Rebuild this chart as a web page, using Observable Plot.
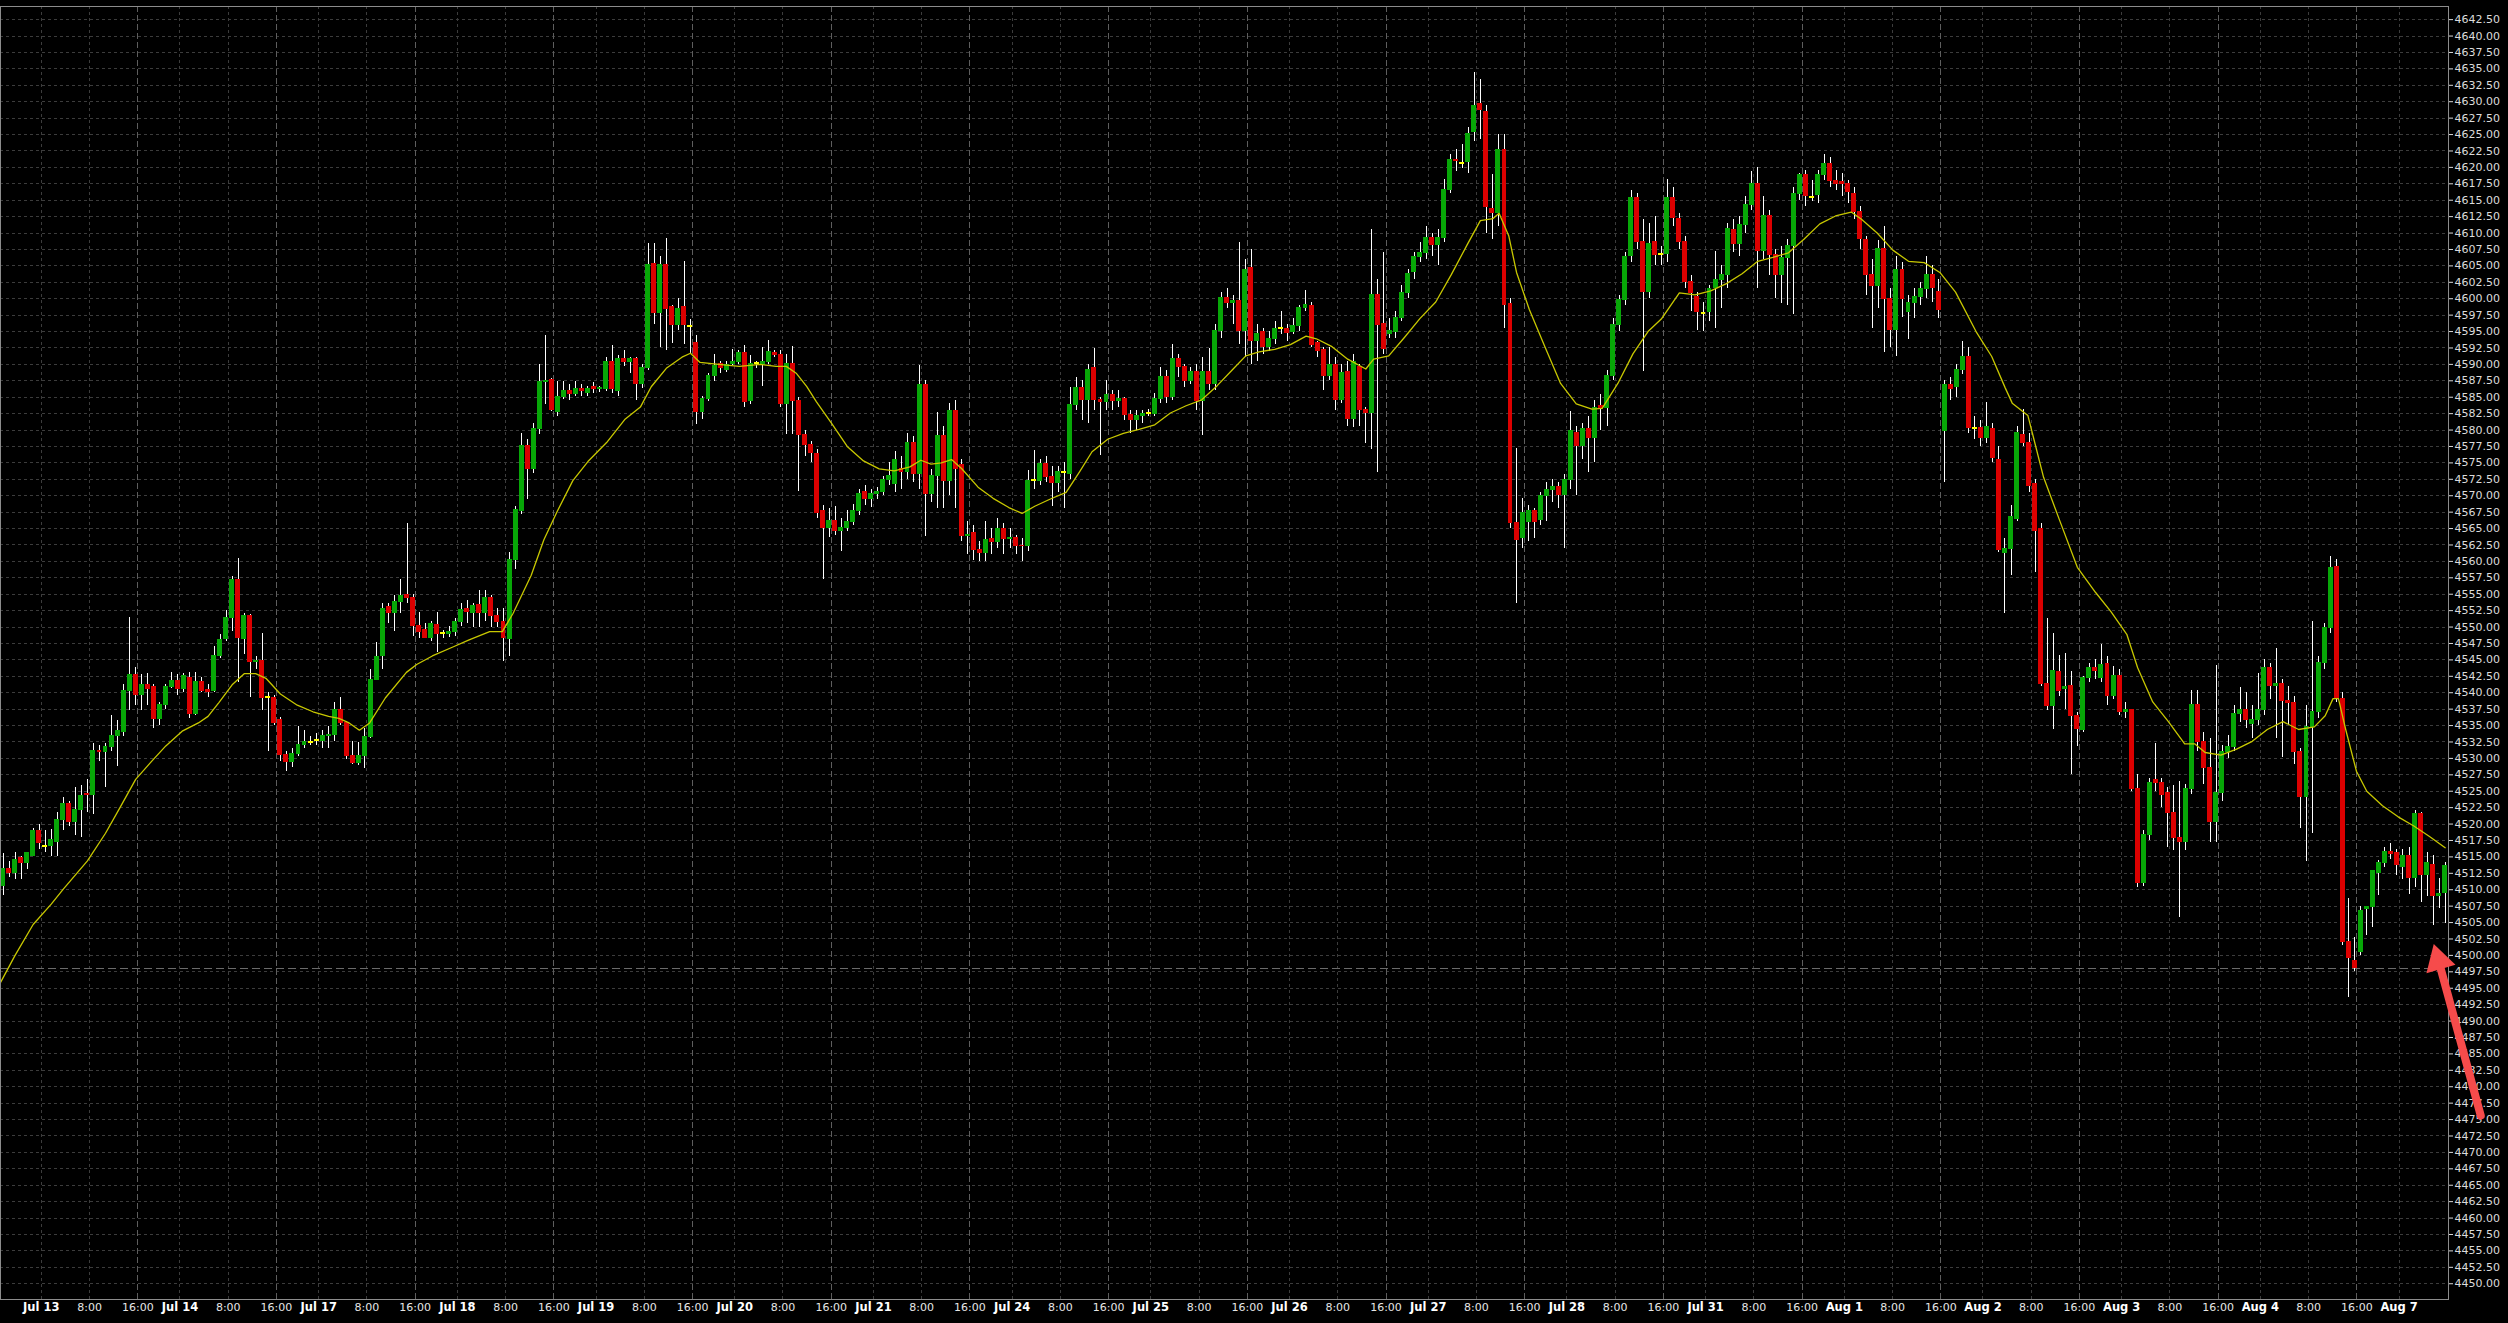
<!DOCTYPE html>
<html><head><meta charset="utf-8">
<script src="https://cdn.jsdelivr.net/npm/d3@7"></script>
<script src="https://cdn.jsdelivr.net/npm/@observablehq/plot@0.6"></script>
<style>
html,body{margin:0;padding:0;background:#000;}
#chart{width:2508px;height:1323px;overflow:hidden;background:#000;}
</style></head><body><div id="chart"></div>
<script>
// ---- hourly candles (bar index = position in arrays) ----
const opens = [
4510.6,4513.2,4512.5,4514.8,4514.1,4515.2,4519.0,4516.6,4516.7,4517.3,
4520.6,4523.0,4520.3,4522.2,4524.6,4524.4,4531.2,4530.9,4531.7,4533.4,
4534.0,4540.3,4542.7,4539.6,4541.2,4540.8,4536.0,4538.1,4540.8,4541.8,
4540.6,4542.3,4536.8,4541.6,4540.4,4540.3,4545.6,4548.2,4551.4,4557.1,
4548.2,4551.7,4544.7,4544.8,4539.2,4539.2,4535.9,4530.5,4529.4,4530.7,
4532.0,4532.4,4532.8,4532.6,4533.4,4533.6,4537.3,4535.4,4530.3,4529.3,
4530.3,4533.3,4542.0,4545.6,4553.0,4552.1,4553.8,4554.9,4554.5,4550.1,
4549.6,4548.4,4550.3,4549.0,4549.0,4549.2,4550.7,4552.8,4552.2,4553.3,
4552.2,4554.4,4551.7,4550.7,4548.2,4560.2,4567.6,4577.5,4574.0,4580.2,
4587.3,4587.6,4582.8,4585.1,4585.9,4585.5,4586.3,4585.7,4586.6,4586.3,
4586.3,4590.3,4586.0,4590.8,4590.4,4590.8,4587.0,4589.5,4605.3,4597.8,
4605.1,4598.7,4596.0,4598.7,4595.7,4593.2,4582.8,4584.7,4588.2,4590.0,
4589.2,4590.1,4590.4,4591.7,4584.5,4590.1,4590.1,4590.4,4591.8,4591.4,
4584.0,4590.0,4584.5,4579.3,4577.7,4576.4,4567.7,4565.1,4566.1,4564.7,
4565.1,4566.0,4567.7,4570.5,4569.5,4570.2,4570.5,4572.4,4571.8,4574.0,
4573.6,4578.0,4573.3,4586.8,4570.3,4573.0,4579.1,4572.2,4582.9,4574.7,
4563.9,4564.3,4561.7,4561.3,4563.4,4563.0,4565.0,4563.4,4563.6,4562.4,
4562.3,4572.3,4572.3,4574.8,4572.9,4572.0,4573.5,4573.3,4583.8,4586.4,
4584.6,4589.5,4584.6,4584.3,4585.4,4584.5,4584.7,4582.3,4581.5,4582.1,
4582.5,4582.5,4584.8,4588.1,4585.0,4590.8,4589.6,4587.4,4588.8,4584.4,
4588.8,4587.0,4595.1,4600.1,4599.4,4599.7,4595.1,4604.7,4593.6,4594.9,
4592.7,4593.9,4595.4,4595.4,4595.0,4595.8,4598.6,4598.9,4593.2,4592.2,
4588.2,4589.9,4584.6,4588.8,4581.7,4589.6,4583.0,4582.6,4600.6,4596.2,
4594.7,4595.0,4597.0,4600.9,4604.0,4606.3,4606.9,4609.3,4608.2,4609.3,
4616.5,4621.2,4620.6,4620.8,4625.4,4629.6,4628.5,4613.7,4613.0,4622.7,
4599.2,4565.8,4563.5,4566.0,4567.7,4566.3,4569.9,4570.9,4571.3,4570.1,
4572.4,4579.5,4577.6,4580.2,4578.8,4583.6,4583.4,4588.3,4596.0,4599.8,
4606.5,4615.4,4608.7,4601.0,4608.7,4606.8,4606.8,4615.4,4612.1,4608.7,
4602.6,4600.3,4597.8,4598.0,4601.7,4602.9,4603.6,4610.4,4608.3,4611.3,
4614.3,4617.4,4607.2,4612.6,4606.6,4603.6,4606.2,4608.0,4616.0,4618.8,
4615.4,4615.8,4618.8,4620.5,4617.9,4617.7,4617.4,4616.0,4613.2,4608.9,
4603.6,4602.0,4607.6,4600.0,4595.2,4604.4,4598.0,4599.4,4600.3,4601.5,
4603.6,4601.0,4579.8,4586.9,4586.5,4589.1,4591.2,4580.3,4580.3,4578.8,
4580.1,4575.5,4561.3,4561.9,4566.4,4579.2,4578.0,4571.8,4564.9,4541.4,
4538.0,4543.1,4540.6,4541.0,4536.5,4534.4,4542.2,4543.8,4542.2,4544.4,
4539.5,4542.5,4537.1,4537.3,4525.4,4511.1,4518.3,4526.7,4526.2,4524.8,
4521.7,4517.9,4517.3,4525.4,4538.2,4532.5,4528.5,4520.3,4524.8,4531.0,
4531.7,4536.7,4537.3,4535.2,4535.8,4537.3,4543.8,4541.0,4541.3,4538.8,
4538.5,4530.9,4524.1,4534.8,4537.1,4544.6,4549.9,4559.1,4539.1,4502.0,
4499.2,4500.5,4507.0,4507.4,4512.5,4514.1,4515.7,4515.6,4513.5,4515.1,
4511.8,4521.5,4512.2,4513.7,4509.1,4509.5
];
const highs = [
4515.5,4514.3,4515.6,4515.0,4515.7,4519.3,4519.9,4519.0,4519.2,4521.7,
4524.0,4523.5,4525.6,4525.8,4526.8,4532.2,4531.9,4532.2,4536.5,4535.7,
4541.2,4551.4,4543.9,4542.7,4542.9,4541.3,4538.5,4541.2,4543.1,4542.7,
4542.9,4543.1,4543.1,4542.3,4541.2,4547.0,4548.8,4552.5,4557.7,4560.5,
4552.1,4551.9,4545.5,4549.0,4540.0,4539.6,4536.2,4531.1,4531.5,4534.8,
4534.3,4533.4,4533.8,4534.2,4534.8,4538.5,4539.2,4535.6,4532.5,4532.4,
4534.6,4543.5,4547.6,4553.6,4553.6,4554.8,4557.3,4565.8,4555.0,4552.2,
4550.5,4550.9,4552.2,4549.5,4550.1,4551.3,4553.6,4554.0,4553.6,4555.6,
4555.6,4554.8,4552.8,4552.8,4561.4,4568.4,4579.4,4578.5,4581.0,4590.0,
4594.4,4587.8,4587.4,4587.4,4587.0,4587.4,4586.9,4586.6,4587.2,4586.6,
4591.1,4592.9,4591.3,4592.1,4591.0,4591.0,4590.0,4608.4,4608.4,4606.5,
4609.2,4598.9,4600.0,4605.7,4596.8,4594.4,4585.1,4588.6,4591.5,4590.4,
4590.4,4592.3,4592.1,4592.9,4591.3,4590.5,4592.5,4593.6,4592.1,4592.1,
4591.5,4592.8,4585.0,4580.0,4578.2,4577.0,4568.5,4568.0,4568.3,4566.6,
4567.7,4568.7,4571.0,4571.5,4571.0,4571.3,4573.0,4575.0,4576.7,4576.0,
4579.5,4579.0,4589.9,4587.5,4574.0,4582.6,4580.5,4584.0,4584.5,4575.5,
4566.0,4565.5,4563.0,4566.0,4565.0,4566.5,4565.8,4565.0,4564.0,4563.5,
4573.8,4576.9,4575.5,4576.0,4574.5,4574.5,4575.0,4586.5,4588.0,4587.5,
4590.0,4592.4,4585.0,4587.5,4586.0,4586.0,4585.0,4583.0,4583.0,4583.0,
4583.2,4585.5,4589.5,4589.0,4593.0,4591.5,4590.0,4589.5,4590.0,4591.0,
4592.4,4596.0,4601.0,4601.5,4600.5,4608.6,4606.0,4607.5,4596.0,4595.5,
4595.0,4596.5,4598.0,4596.0,4597.0,4599.0,4601.3,4599.5,4593.5,4592.5,
4592.5,4591.0,4590.0,4590.5,4591.5,4590.0,4583.5,4610.6,4602.9,4607.1,
4597.0,4598.0,4602.0,4604.5,4607.0,4608.5,4611.0,4610.0,4610.5,4618.2,
4622.0,4622.7,4623.5,4626.0,4634.4,4633.4,4629.5,4618.9,4625.0,4625.0,
4600.0,4577.2,4569.6,4568.5,4568.0,4570.5,4572.0,4572.5,4572.0,4573.2,
4582.9,4580.5,4581.0,4582.0,4584.5,4585.4,4589.0,4597.0,4600.5,4607.0,
4616.5,4616.0,4612.0,4611.5,4612.5,4608.0,4618.1,4617.0,4613.0,4609.5,
4603.5,4601.0,4599.5,4602.0,4607.2,4605.0,4611.5,4612.0,4612.5,4615.5,
4619.4,4620.0,4615.5,4613.5,4607.5,4608.0,4609.0,4617.0,4619.0,4619.5,
4618.0,4619.5,4622.0,4621.5,4619.5,4619.0,4618.0,4617.0,4614.0,4609.5,
4606.0,4608.9,4611.0,4601.5,4606.5,4605.5,4600.5,4601.5,4602.5,4606.5,
4605.0,4603.0,4587.5,4588.0,4590.0,4593.5,4592.5,4582.0,4581.5,4584.2,
4581.0,4577.5,4563.5,4568.5,4580.5,4583.2,4579.5,4572.5,4565.8,4551.3,
4549.0,4545.6,4546.0,4543.3,4537.0,4542.5,4544.5,4545.0,4547.4,4545.5,
4544.0,4543.5,4538.5,4537.5,4527.5,4519.0,4527.0,4532.2,4527.0,4525.5,
4525.8,4526.5,4526.0,4540.3,4540.3,4534.0,4533.0,4544.2,4532.0,4533.5,
4538.0,4540.8,4540.0,4538.0,4542.9,4545.0,4544.5,4546.8,4542.0,4541.0,
4539.5,4531.5,4538.0,4550.8,4545.5,4550.5,4560.7,4560.3,4540.0,4508.6,
4502.8,4507.4,4507.4,4512.9,4514.5,4516.5,4517.0,4516.2,4516.2,4516.4,
4522.0,4521.7,4515.7,4515.2,4511.7,4514.1
];
const lows = [
4509.1,4511.9,4511.6,4511.6,4513.1,4515.0,4516.2,4515.6,4515.0,4515.1,
4519.0,4519.6,4518.2,4517.9,4521.8,4521.4,4529.5,4525.6,4531.1,4528.8,
4533.4,4537.3,4538.1,4537.3,4538.1,4534.6,4535.0,4537.5,4540.6,4539.6,
4540.0,4536.0,4536.5,4540.0,4539.2,4540.1,4545.2,4547.8,4549.3,4541.6,
4545.8,4539.2,4543.5,4537.3,4531.1,4535.0,4529.5,4528.0,4528.6,4530.3,
4531.5,4531.9,4532.0,4531.5,4531.5,4532.6,4535.0,4529.9,4529.0,4528.9,
4528.4,4533.0,4541.8,4543.5,4550.5,4549.3,4552.1,4553.6,4548.6,4548.2,
4548.2,4547.8,4546.2,4548.2,4548.4,4548.6,4550.1,4550.5,4549.9,4549.9,
4550.9,4549.9,4549.9,4544.7,4545.5,4558.7,4567.2,4569.5,4573.4,4579.3,
4583.9,4582.8,4582.0,4584.7,4584.5,4585.1,4585.1,4585.1,4585.5,4585.7,
4585.9,4585.5,4585.1,4589.7,4588.6,4584.5,4586.4,4589.0,4596.0,4592.5,
4592.1,4593.2,4595.2,4593.0,4591.5,4580.8,4581.6,4584.3,4587.4,4588.6,
4588.8,4589.9,4590.0,4583.5,4583.9,4589.4,4586.6,4590.0,4591.0,4583.5,
4579.3,4579.3,4570.7,4576.0,4575.0,4566.5,4557.2,4563.7,4563.9,4561.5,
4564.5,4565.5,4567.0,4568.5,4568.2,4569.5,4570.0,4571.5,4570.5,4571.0,
4572.5,4572.0,4571.0,4563.8,4569.0,4568.0,4568.0,4570.0,4568.0,4563.0,
4561.0,4560.1,4560.0,4560.0,4561.0,4562.0,4561.0,4562.0,4561.0,4560.0,
4561.5,4571.0,4571.5,4572.0,4568.4,4570.5,4568.0,4572.5,4583.0,4581.5,
4581.0,4583.0,4576.1,4583.0,4583.0,4583.5,4581.5,4579.5,4580.0,4581.0,
4582.0,4582.0,4584.0,4584.0,4584.5,4588.0,4586.5,4587.0,4583.0,4579.2,
4586.0,4586.0,4594.0,4598.5,4596.0,4593.0,4591.0,4590.0,4590.5,4591.5,
4592.0,4593.0,4594.5,4593.5,4594.5,4595.0,4598.0,4592.5,4591.0,4586.0,
4587.5,4583.0,4584.0,4580.5,4580.4,4580.5,4578.0,4577.0,4573.6,4591.5,
4594.0,4594.0,4596.5,4600.0,4603.0,4605.5,4606.0,4606.5,4605.1,4608.5,
4616.0,4619.4,4619.9,4619.0,4624.0,4624.2,4610.0,4609.0,4611.0,4595.5,
4565.0,4553.6,4562.0,4563.0,4563.5,4565.5,4566.0,4569.0,4568.0,4562.0,
4571.0,4570.0,4575.5,4573.5,4575.0,4580.0,4580.5,4587.5,4595.0,4599.0,
4605.5,4607.5,4588.9,4600.0,4605.0,4605.0,4605.5,4611.0,4607.5,4601.5,
4598.0,4595.2,4595.0,4596.5,4595.5,4598.5,4601.5,4607.0,4606.5,4610.0,
4613.5,4601.5,4606.0,4603.5,4600.0,4599.3,4599.0,4597.6,4615.0,4614.0,
4614.8,4614.5,4618.0,4617.0,4616.5,4615.5,4614.5,4612.0,4607.5,4600.5,
4595.5,4598.5,4591.8,4592.5,4591.2,4597.2,4593.8,4597.0,4599.0,4600.0,
4599.5,4597.0,4572.0,4584.5,4585.0,4588.5,4579.5,4578.5,4577.5,4578.0,
4575.0,4561.3,4552.1,4557.8,4566.0,4577.5,4570.5,4558.3,4541.0,4537.3,
4534.4,4539.5,4537.5,4527.5,4531.8,4534.0,4541.5,4542.0,4541.5,4538.0,
4539.0,4536.5,4536.0,4525.0,4510.3,4510.5,4517.5,4525.0,4522.5,4516.5,
4516.0,4505.7,4516.0,4524.5,4531.0,4526.0,4517.2,4517.2,4523.5,4530.0,
4531.0,4535.5,4534.5,4533.0,4535.0,4536.5,4539.0,4533.0,4530.1,4535.0,
4529.0,4519.4,4514.3,4518.5,4536.0,4543.5,4549.0,4538.5,4501.5,4493.6,
4497.5,4500.0,4503.0,4504.3,4509.1,4513.4,4514.6,4512.2,4511.6,4509.3,
4510.4,4508.1,4508.9,4504.6,4507.1,4504.9
];
const closes = [
4513.2,4512.5,4514.5,4514.1,4515.6,4519.0,4517.1,4516.6,4517.5,4520.6,
4523.0,4520.3,4522.2,4524.2,4524.4,4531.2,4530.9,4531.7,4533.4,4534.2,
4540.3,4542.7,4539.6,4541.2,4540.6,4536.0,4538.1,4540.8,4541.8,4540.6,
4542.5,4536.8,4541.6,4540.3,4540.1,4545.6,4548.0,4551.4,4557.1,4548.3,
4551.7,4544.7,4544.8,4539.2,4539.2,4535.4,4530.5,4529.4,4530.7,4532.0,
4532.5,4532.4,4532.8,4533.4,4533.6,4537.3,4535.4,4530.3,4529.3,4530.3,
4533.3,4542.0,4545.5,4552.7,4552.1,4553.8,4554.7,4554.5,4550.1,4549.2,
4548.4,4550.5,4549.0,4549.0,4549.2,4550.8,4552.6,4552.3,4553.2,4552.2,
4554.4,4551.7,4550.7,4548.3,4560.2,4567.8,4577.5,4574.0,4580.2,4587.3,
4587.5,4583.0,4585.1,4586.0,4585.5,4586.2,4585.9,4586.3,4586.3,4586.4,
4590.3,4586.3,4590.8,4590.4,4590.8,4587.0,4589.5,4605.1,4597.8,4605.1,
4598.5,4596.0,4598.5,4596.0,4595.7,4582.8,4584.7,4588.2,4589.7,4589.4,
4589.9,4590.4,4591.7,4584.3,4590.1,4590.1,4590.4,4591.9,4591.4,4584.0,
4590.0,4584.5,4579.3,4577.7,4576.5,4567.4,4565.1,4566.1,4564.7,4565.1,
4566.0,4567.7,4570.2,4569.5,4570.2,4570.5,4572.4,4573.0,4575.5,4573.6,
4578.0,4573.3,4586.8,4570.3,4573.0,4579.1,4572.2,4582.9,4574.1,4563.9,
4564.0,4561.7,4561.3,4563.2,4563.0,4565.0,4563.4,4563.6,4562.4,4562.3,
4572.3,4572.3,4574.8,4572.9,4572.0,4573.6,4573.5,4583.8,4586.4,4584.6,
4589.2,4584.6,4584.3,4585.4,4584.5,4584.8,4582.3,4581.5,4582.1,4582.5,
4582.5,4584.8,4588.1,4585.0,4590.8,4589.6,4587.4,4588.8,4584.4,4588.8,
4587.0,4595.1,4600.1,4599.4,4599.7,4595.1,4604.4,4593.6,4594.7,4592.7,
4593.9,4595.4,4595.4,4594.8,4595.8,4598.6,4599.0,4593.0,4592.1,4588.2,
4589.9,4584.6,4588.7,4581.7,4590.4,4583.0,4582.6,4600.5,4596.0,4592.3,
4595.1,4597.0,4600.9,4603.7,4606.3,4606.9,4609.2,4608.2,4609.3,4616.5,
4621.2,4620.9,4620.6,4625.1,4629.3,4628.7,4613.9,4613.0,4622.7,4599.0,
4565.8,4563.2,4567.4,4567.7,4566.0,4569.9,4570.9,4571.3,4570.1,4572.4,
4579.8,4577.6,4580.2,4578.8,4583.4,4583.4,4588.3,4596.0,4599.8,4606.4,
4615.4,4608.7,4601.0,4608.3,4606.6,4606.8,4615.4,4612.3,4608.7,4602.6,
4600.9,4598.0,4597.8,4601.5,4602.9,4603.6,4610.6,4608.3,4611.3,4614.3,
4617.4,4607.2,4612.6,4606.6,4603.6,4606.2,4608.0,4616.0,4618.8,4615.6,
4615.4,4618.8,4620.5,4617.9,4617.4,4617.4,4616.2,4613.2,4609.1,4603.6,
4602.0,4607.6,4600.0,4595.2,4604.4,4600.0,4599.4,4600.3,4601.5,4603.6,
4601.7,4598.3,4586.9,4586.3,4589.1,4591.2,4580.3,4580.3,4578.8,4580.5,
4575.8,4561.7,4561.9,4566.7,4579.5,4578.1,4571.5,4564.7,4541.4,4538.0,
4543.3,4540.3,4540.8,4536.5,4534.5,4542.2,4543.8,4543.3,4544.2,4539.5,
4542.5,4537.1,4537.3,4525.4,4511.1,4518.3,4526.2,4526.2,4524.5,4521.7,
4517.9,4517.3,4525.4,4538.2,4532.5,4528.5,4520.3,4524.8,4531.0,4531.7,
4536.7,4537.3,4535.8,4535.8,4537.3,4543.8,4541.0,4541.3,4538.8,4538.5,
4530.9,4524.1,4534.8,4537.1,4544.6,4549.9,4559.0,4539.1,4502.0,4499.6,
4498.1,4506.7,4507.3,4512.8,4514.1,4515.7,4515.5,4513.7,4515.1,4511.8,
4521.5,4512.2,4514.1,4509.0,4509.4,4513.6
];

// ---- moving average line (bar position, value) ----
const maBars = [-0.4,2,5,8,10,14,17,19.4,22,24.6,27,29.8,32.4,34,35.8,38,40,41.9,43.6,46,
48.8,51.4,54,55.7,57.4,59.1,60.8,63.4,66.9,68.6,71.2,74.7,77.2,80.7,82.8,84.6,87.6,89.7,91.9,94.5,
97,100.1,103.1,105.7,107.5,110,112.6,114,115.6,118.7,122.1,125.6,128.2,129.9,131.6,133.3,134.9,
137.5,140,142.7,145.3,147.8,150.4,152.2,153.9,155.6,157.3,159,161.7,164.2,166.8,169,171.1,173.7,
176.3,178.5,180.6,183.2,185.8,188.4,191,193.6,196.2,198.8,201.4,204,206.1,208.3,210.9,213.5,216.1,
217.8,220.4,223,226,227.3,229.8,232.4,235,237.6,240.2,242.8,245,247.1,248.1,249.7,251,253.1,255.7,
258.3,260.9,263.5,265.2,267.8,270.3,272.8,275,278,280.6,283.2,285.8,288.4,291,293.5,296.1,298.7,
301.3,303.9,306.5,308.2,310.8,313.4,316,318.6,321.2,323.8,327.2,329.8,332,333.2,335.8,338.4,341,
344,347,349.6,352.2,354,356.5,359.1,361.8,363.5,365.2,367.8,370.4,373,375.5,378.1,380.7,383.3,
385.1,386.4,387.3,388.5,390.3,392,394.6,397.2,399.8,402.4,405];
const maValues = [4495.9,4500.0,4504.7,4507.8,4510.1,4514.4,4518.6,4522.5,4526.8,4529.5,4531.9,4534.2,4535.4,4536.4,4538.5,4541.2,4542.9,4542.9,4542.2,4539.8,
4538.1,4537.1,4536.4,4536.1,4535.4,4534.3,4535.4,4539.2,4543.1,4544.3,4545.6,4547.0,4548.0,4549.3,4549.3,4552.1,4557.9,4563.3,4567.6,4572.3,
4575.2,4578.1,4581.6,4583.5,4586.6,4589.4,4591.1,4591.7,4590.3,4590.0,4589.7,4590.0,4589.7,4589.7,4588.6,4586.6,4584.3,
4580.9,4577.5,4575.3,4574.1,4573.8,4574.4,4575.4,4574.8,4575.0,4575.5,4574.1,4571.3,4569.6,4568.2,4567.3,4568.4,4569.5,
4570.5,4573.6,4576.7,4578.6,4579.5,4580.1,4580.8,4582.6,4583.7,4584.6,4586.8,4589.3,4591.3,4591.9,4592.3,4593.0,4594.3,
4593.9,4592.7,4590.8,4589.3,4590.8,4591.3,4594.1,4597.0,4599.5,4603.7,4608.2,4611.9,4612.2,4613.0,4609.6,4604.0,4598.4,4592.7,
4587.1,4584.0,4583.2,4583.3,4587.1,4591.6,4595.0,4596.9,4600.9,4600.6,4601.2,4602.3,4603.8,4605.7,4606.3,4607.0,4609.1,
4611.4,4612.6,4613.2,4612.1,4610.0,4607.4,4605.7,4605.5,4604.0,4601.0,4595.0,4591.2,4586.5,4584.1,4582.2,4572.8,4566.4,
4559.1,4555.3,4552.3,4548.9,4543.8,4538.6,4535.6,4532.2,4532.2,4530.9,4530.5,4531.4,4532.6,4534.4,4535.6,4534.4,4534.8,
4536.5,4539.1,4539.1,4534.4,4528.0,4525.0,4522.8,4521.1,4519.7,4518.1,4516.4];

// ---- axis labels ----
const dayLabels = ["Jul 13","Jul 14","Jul 17","Jul 18","Jul 19","Jul 20","Jul 21","Jul 24","Jul 25",
  "Jul 26","Jul 27","Jul 28","Jul 31","Aug 1","Aug 2","Aug 3","Aug 4","Aug 7"];
const timeLabels = ["8:00","16:00"];
const timeOffsets = [8, 16];       // bars after the day's first bar
const firstDayBar = 6, barsPerDay = 23;
const yTicks = d3.range(4450, 4642.51, 2.5);
const levelPrice = [4498];
// annotation arrow (bar position, price)
const arrowTail = {bar: 410.9, price: 4475.6};
const arrowHead = {bar: 403.9, price: 4499.2};

// ---- build ----
const n = Math.min(opens.length, highs.length, lows.length, closes.length);
const candles = d3.range(n).map(i => ({i, o: opens[i], h: highs[i], l: lows[i], c: closes[i]}));
const ma = maBars.map((b, k) => ({b, v: maValues[k]}));
const gridShift = 0.35;
const dayTicks = dayLabels.map((label, d) => ({pos: firstDayBar + barsPerDay * d + gridShift, label}));
const timeTicks = [];
dayLabels.slice(0, -1).forEach((_, d) => timeLabels.forEach((label, k) =>
  timeTicks.push({pos: firstDayBar + barsPerDay * d + timeOffsets[k] + gridShift, label})));
const sepTicks = timeTicks.filter(t => t.label === "16:00");
const dimTicks = dayTicks.concat(timeTicks.filter(t => t.label !== "16:00"));

const GREEN = "#07a707", RED = "#dc0000", DOJI = "#ffff00";
const half = 0.41;
const arrowColor = "#f64b4b";

const chart = Plot.plot({
  width: 2508, height: 1323,
  marginLeft: 0, marginRight: 60, marginTop: 6, marginBottom: 24,
  style: {background: "#000", color: "#ddd", fontFamily: "DejaVu Sans", fontSize: "11px"},
  x: {type: "linear", domain: [-0.415, 405.55], axis: null},
  y: {domain: [4447.6, 4644.5], axis: null},
  marks: [
    Plot.ruleY(yTicks, {stroke: "#3c3c3c", strokeDasharray: "3,3", shapeRendering: "crispEdges"}),
    Plot.ruleX(dimTicks, {x: "pos", stroke: "#3c3c3c", strokeDasharray: "3,3", shapeRendering: "crispEdges"}),
    Plot.ruleX(sepTicks, {x: "pos", stroke: "#5e5e5e", strokeDasharray: "6,3", shapeRendering: "crispEdges"}),
    Plot.ruleY(levelPrice, {stroke: "#6a6a6a", strokeDasharray: "8,4", shapeRendering: "crispEdges"}),
    Plot.ruleX(candles, {x: "i", y1: "l", y2: "h", stroke: "#ffffff", strokeWidth: 1, shapeRendering: "crispEdges"}),
    Plot.rect(candles, {filter: d => d.o !== d.c, x1: d => d.i - half, x2: d => d.i + half,
      y1: d => Math.min(d.o, d.c), y2: d => Math.max(d.o, d.c),
      fill: d => d.c > d.o ? GREEN : RED, insetTop: -0.5, insetBottom: -0.5, shapeRendering: "crispEdges"}),
    Plot.rect(candles, {filter: d => d.o === d.c, x1: d => d.i - half, x2: d => d.i + half,
      y1: "o", y2: "c", fill: DOJI, insetTop: -1, insetBottom: -1, shapeRendering: "crispEdges"}),
    Plot.line(ma, {x: "b", y: "v", stroke: "#c8c800", strokeWidth: 1.3}),
    Plot.frame({stroke: "#8c8c8c", shapeRendering: "crispEdges"}),
    Plot.axisY(yTicks, {anchor: "right", tickSize: 4, tickPadding: 2, tickFormat: d => d.toFixed(2),
      fontSize: 11, color: "#dcdcdc"}),
    Plot.text(dayTicks, {x: "pos", text: "label", frameAnchor: "bottom", dy: 11,
      fontWeight: "bold", fontSize: 11.5, fill: "#ffffff"}),
    Plot.text(timeTicks, {x: "pos", text: "label", frameAnchor: "bottom", dy: 11,
      fontSize: 11, fill: "#e6e6e6"}),
    Plot.line([arrowTail, arrowHead], {x: "bar", y: "price", stroke: arrowColor, strokeWidth: 8, strokeLinecap: "round"}),
    Plot.dot([arrowHead], {x: "bar", y: "price", symbol: "triangle", r: 11.2, fill: arrowColor, rotate: -16})
  ]
});
document.getElementById("chart").appendChild(chart);
</script>
</body></html>
